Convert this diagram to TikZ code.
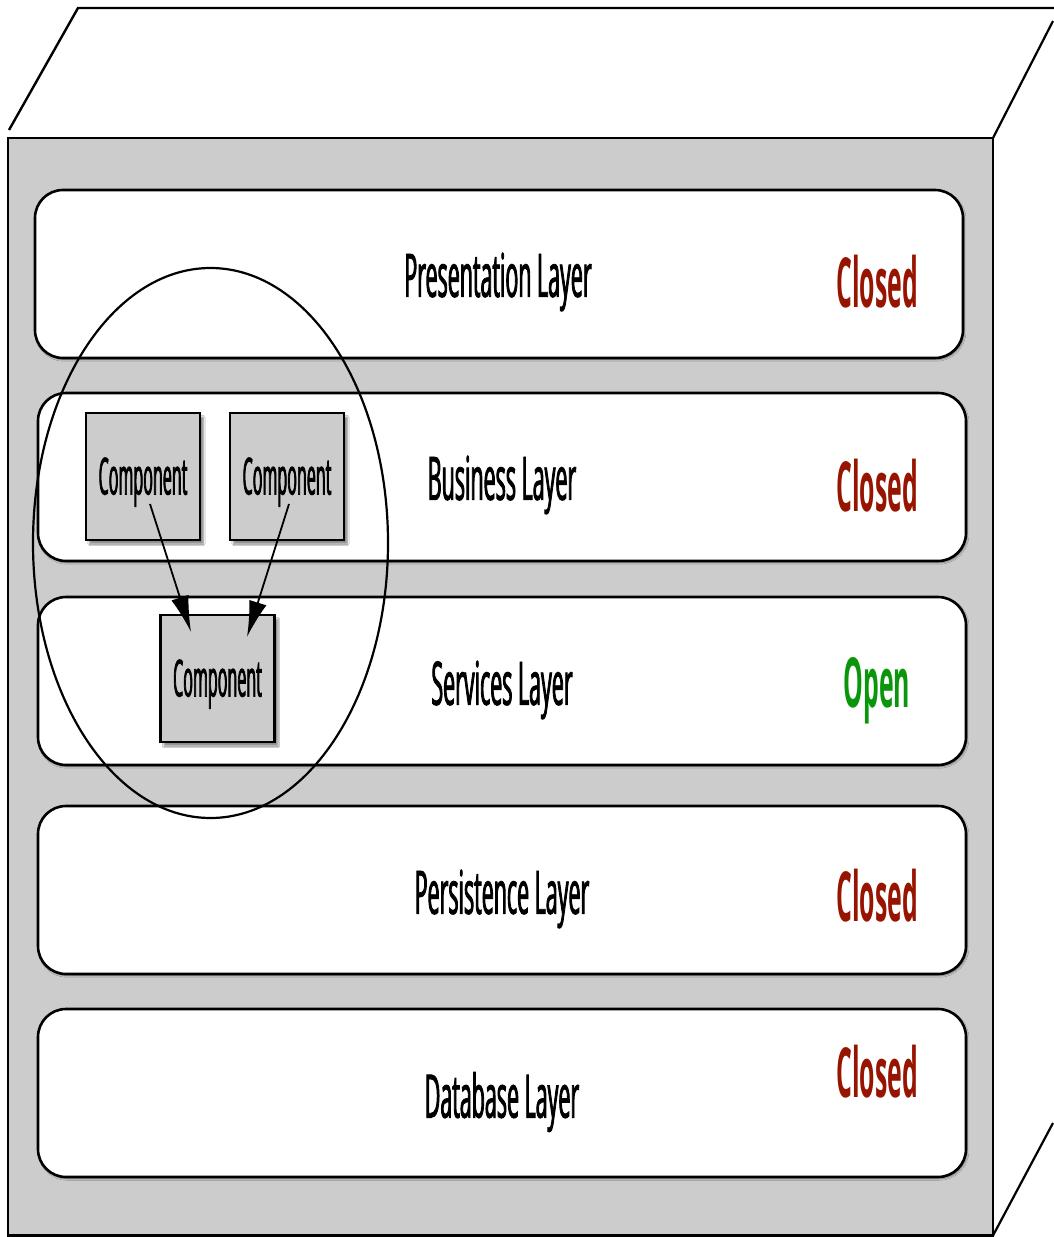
\documentclass[tikz,border=0pt]{standalone}
\usepackage{fontspec}
\newfontfamily\lf{Open Sans}[FakeStretch=0.357,FakeBold=1.4]
\newfontfamily\cf{Open Sans}[FakeStretch=0.315,FakeBold=1.4]
\newfontfamily\stf{Open Sans}[FakeStretch=0.36]
\usetikzlibrary{shadows.blur,arrows.meta}
\definecolor{boxgray}{HTML}{CCCCCC}
\definecolor{closedred}{RGB}{150,20,0}
\definecolor{opengreen}{RGB}{10,150,10}
\begin{document}
\begin{tikzpicture}[x=1pt,y=-1pt,
  layer/.style={draw=black,line width=2.6pt,fill=white,rounded corners=28pt,
    minimum width=928pt,minimum height=168pt,inner sep=0pt,
    blur shadow={shadow xshift=1.2pt,shadow yshift=-1.5pt,shadow blur steps=3,shadow opacity=50}},
  comp/.style={draw=black,line width=2.4pt,fill=boxgray,minimum width=114pt,minimum height=127pt,inner sep=0pt,
    text depth=1pt,
    blur shadow={shadow xshift=3.5pt,shadow yshift=-4pt,shadow blur steps=5,shadow opacity=45},
    font=\cf\fontsize{51}{54}\selectfont},
  ltext/.style={font=\lf\fontsize{60}{64}\selectfont,inner sep=0pt},
  state/.style={font=\stf\bfseries\fontsize{69}{72}\selectfont,inner sep=0pt},
  arr/.style={line width=1.8pt,-{Latex[length=36pt,width=18pt]}}
]
\useasboundingbox (0,0) rectangle (1053,1237);
% cube
\draw[line width=2.2pt,fill=boxgray] (8,138) rectangle (993,1235.5);
\coordinate (tl1) at (9,130);
\coordinate (tl2) at (78,8);
\coordinate (tr) at (1055,8);
\draw[line width=2.4pt] (tl1) -- (tl2) -- (tr);
\coordinate (rt1) at (993,138);
\coordinate (rt2) at (1053,21);
\draw[line width=2.2pt] (rt1) -- (rt2);
\coordinate (rb1) at (993,1235.5);
\coordinate (rb2) at (1053,1123);
\draw[line width=2.2pt] (rb1) -- (rb2);
% layers
\node[layer] (L1) at (499,274) {};
\node[layer] (L2) at (502,477) {};
\node[layer] (L3) at (502,681) {};
\node[layer] (L4) at (502,890) {};
\node[layer] (L5) at (502,1093) {};
\node[ltext] (t1) at (498,282) {Presentation Layer};
\node[ltext] (t2) at (502,485) {Business Layer};
\node[ltext] (t3) at (502,690) {Services Layer};
\node[ltext] (t4) at (502,899) {Persistence Layer};
\node[ltext] (t5) at (502,1102) {Database Layer};
\node[state,text=closedred] (s1) at (877,282) {Closed};
\node[state,text=closedred] (s2) at (877,486) {Closed};
\node[state,text=opengreen] (s3) at (877,691) {Open};
\node[state,text=closedred] (s4) at (877,896) {Closed};
\node[state,text=closedred] (s5) at (877,1072) {Closed};
% components
\node[comp] (c1) at (143,476.5) {Component};
\node[comp] (c2) at (287,476.5) {Component};
\node[comp] (c3) at (217.5,678.5) {Component};
% ellipse
\draw[line width=2.2pt] (210.5,543) ellipse [x radius=177.5pt, y radius=275pt];
% arrows
\coordinate (a1s) at (150,504);
\coordinate (a1e) at (191,632);
\coordinate (a2s) at (289,504);
\coordinate (a2e) at (247,637);
\draw[arr] (a1s) -- (a1e);
\draw[arr] (a2s) -- (a2e);
\end{tikzpicture}
\end{document}
